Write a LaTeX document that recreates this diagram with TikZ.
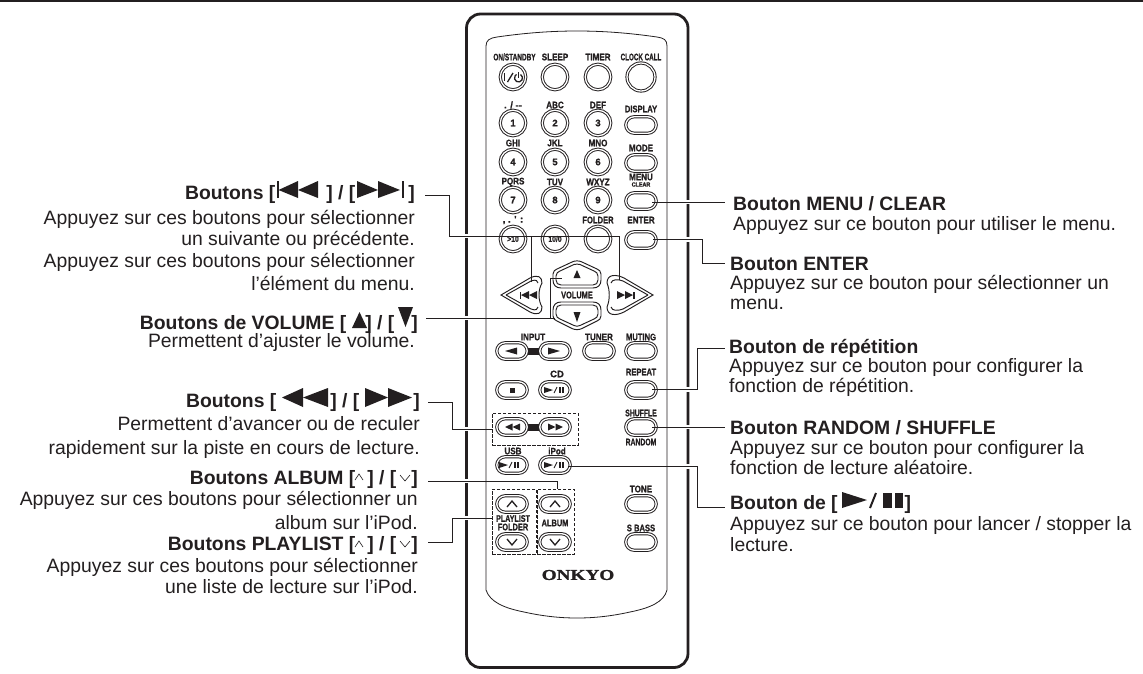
\documentclass[tikz,border=0pt]{standalone}
\usepackage{fontspec}
\setmainfont{Liberation Sans}
\newfontfamily\rcfont[FakeBold=1]{Liberation Sans}
\newfontfamily\logofont[FakeBold=1.2]{Liberation Serif}
\definecolor{ink}{HTML}{231F20}
\pgfdeclarelayer{bg}\pgfdeclarelayer{halo}\pgfsetlayers{bg,halo,main}
\newcommand{\rcLead}[1]{\begin{pgfonlayer}{halo}\draw[halolead] #1;\end{pgfonlayer}\draw[leader] #1;}
\newcommand{\rct}[2]{\scalebox{#1}[1]{#2}}
\tikzset{
 leader/.style={draw=ink,line width=0.9pt},
 halolead/.style={draw=white,line width=4.5pt},
 ring/.style={circle,draw=ink,double=white,double distance=1.3pt,line width=.95pt,minimum size=25.5pt,inner sep=0pt,text=ink,font=\rcfont\bfseries\fontsize{9.5}{10}\selectfont},
 bigring/.style={ring,minimum size=28pt},
 pill/.style={rectangle,rounded corners=8.5pt,draw=ink,double=white,double distance=1.3pt,line width=.95pt,minimum width=30.5pt,minimum height=16.5pt,inner sep=0pt,text=ink,font=\rcfont\bfseries\fontsize{8}{9}\selectfont},
 rc/.style={inner sep=0pt,text=ink,font=\rcfont\bfseries\fontsize{9.5}{10}\selectfont},
 lh/.style={inner sep=0pt,text=ink,anchor=base east,font=\bfseries\fontsize{19.35}{20}\selectfont},
 lt/.style={inner sep=0pt,text=ink,anchor=base east,font=\fontsize{19.35}{20}\selectfont},
 rh/.style={inner sep=0pt,text=ink,anchor=base west,font=\bfseries\fontsize{19.35}{20}\selectfont},
 rt/.style={inner sep=0pt,text=ink,anchor=base west,font=\fontsize{19.35}{20}\selectfont},
 dashbox/.style={draw=ink,line width=.85pt,dash pattern=on 3.5pt off 1.5pt,inner sep=0pt},
 icon/.style={fill=ink,draw=none},
 chev/.style={draw=ink,line width=1.3pt,fill=none},
 thinchev/.style={draw=ink,line width=.6pt,fill=none}
}
\begin{document}
\begin{tikzpicture}[x=1pt,y=-1pt]
\useasboundingbox (0,0) rectangle (1143,673);
\begin{pgfonlayer}{bg}
\fill[white] (0,0) rectangle (1143,673);
\fill[ink] (0,0) rectangle (1143,2.2);
\draw[ink,line width=2.8pt,rounded corners=14pt] (466.5,14) rectangle (688,667.5);
\end{pgfonlayer}
% panel
\draw[ink,line width=.8pt] (486,590) -- (486,46) .. controls (486,40) and (490,38) .. (497,37)
 .. controls (525,33) and (550,31) .. (577,31) .. controls (604,31) and (629,33) .. (657,37)
 .. controls (664,38) and (667,40) .. (667,46) -- (667,590)
 .. controls (664,602) and (650,608) .. (630,612) .. controls (612,616) and (595,618) .. (577,618)
 .. controls (559,618) and (542,616) .. (524,612) .. controls (504,608) and (490,602) .. (486,590);
% row 1
\node[ring] (bPower) at (513,77) {};
\node[ring] (bSleep) at (555,77) {};
\node[ring] (bTimer) at (598,77) {};
\node[bigring] (bClock) at (641,77) {};
\draw[ink,line width=1pt] (504.5,73) -- (504.5,81);
\draw[ink,line width=1.3pt] (507.5,82) -- (513,73);
\draw[ink,line width=1.3pt] (520.5,74.5) arc[start angle=300,end angle=600,radius=4];
\draw[ink,line width=1.2pt] (518.5,72) -- (518.5,77.5);
\node[rc] (tOn) at (514.5,57) {\rct{.68}{ON/STANDBY}};
\node[rc] (tSl) at (555,57) {\rct{.85}{SLEEP}};
\node[rc] (tTi) at (598,57) {\rct{.85}{TIMER}};
\node[rc] (tCl) at (641,57) {\rct{.66}{CLOCK CALL}};
% numbers
\node[ring] (b1) at (513,123) {1};
\node[ring] (b2) at (555,123) {2};
\node[ring] (b3) at (598,123) {3};
\node[ring] (b4) at (513,162) {4};
\node[ring] (b5) at (555,162) {5};
\node[ring] (b6) at (598,162) {6};
\node[ring] (b7) at (513,200) {7};
\node[ring] (b8) at (555,200) {8};
\node[ring] (b9) at (598,200) {9};
\node[ring] (bTen) at (513,239) {\fontsize{8}{9}\selectfont\rct{.85}{>10}};
\node[ring] (bZero) at (555,239) {\fontsize{8}{9}\selectfont\rct{.85}{10/0}};
\node[ring] (bFolder) at (598,239) {};
\node[rc] (t1) at (513,105) {. / --};
\node[rc] (t2) at (555,105) {\rct{.85}{ABC}};
\node[rc] (t3) at (598,105) {\rct{.85}{DEF}};
\node[rc] (t4) at (513,143) {\rct{.85}{GHI}};
\node[rc] (t5) at (555,143) {\rct{.85}{JKL}};
\node[rc] (t6) at (598,143) {\rct{.85}{MNO}};
\node[rc] (t7) at (513,182) {\rct{.85}{PQRS}};
\node[rc] (t8) at (555,182) {\rct{.85}{TUV}};
\node[rc] (t9) at (598,182) {\rct{.85}{WXYZ}};
\node[rc] (t10) at (513,220) {, . ' :};
\node[rc] (tFo) at (598,220) {\rct{.8}{FOLDER}};
% right column
\node[pill] (bDisplay) at (641,125) {};
\node[pill] (bMode) at (641,163) {};
\node[pill] (bMenu) at (641,201) {};
\node[pill] (bEnter) at (641,240) {};
\node[rc] (tDi) at (641,109) {\rct{.8}{DISPLAY}};
\node[rc] (tMo) at (641,148) {\rct{.85}{MODE}};
\node[rc] (tMe) at (641,177) {\rct{.85}{MENU}};
\node[rc] (tCle) at (641,184.5) {\fontsize{6}{7}\selectfont\rct{.9}{CLEAR}};
\node[rc] (tEn) at (641,220) {\rct{.85}{ENTER}};
% cursor
\draw[ink,line width=.95pt,fill=white] (501,295) -- (530,278) .. controls (538,274) and (542,277) .. (542,283) .. controls (538,290) and (538,300) .. (542,307) .. controls (542,313) and (538,316) .. (530,312) -- cycle;
\draw[ink,line width=.95pt] (506,295) -- (531,281) .. controls (536,279) and (538,281) .. (538,283);
\draw[ink,line width=.95pt] (506,295) -- (531,309) .. controls (536,311) and (538,309) .. (538,307);
\coordinate (bSkipL) at (531,282);
\draw[ink,line width=.95pt,fill=white] (653,295) -- (624,278) .. controls (616,274) and (607,274) .. (607,283) .. controls (610,290) and (610,300) .. (607,307) .. controls (607,316) and (616,316) .. (624,312) -- cycle;
\draw[ink,line width=.95pt] (648,295) -- (623,281) .. controls (618,279) and (612,279) .. (611,283);
\draw[ink,line width=.95pt] (648,295) -- (623,309) .. controls (618,311) and (612,311) .. (611,307);
\coordinate (bSkipR) at (619,280);
\draw[ink,line width=.95pt] (553,274) .. controls (553,271) and (555,270) .. (557,269) -- (572,262) .. controls (575,260.5) and (579,260.5) .. (582,262) -- (597,269) .. controls (599,270) and (601,271) .. (601,274) -- (601,280) .. controls (601,285) and (598,288) .. (593,288);
\draw[ink,line width=.95pt] (553,274) -- (553,280) .. controls (553,285) and (556,288) .. (561,288) -- (593,288);
\draw[ink,line width=.95pt] (556,276) .. controls (556,273) and (558,272) .. (560,271) -- (574,264.5) .. controls (576,264) and (578,264) .. (580,264.5) -- (594,271) .. controls (596,272) and (598,273) .. (598,276) -- (598,280) .. controls (598,283) and (596,285) .. (593,285) -- (561,285) .. controls (558,285) and (556,283) .. (556,280) -- cycle;
\draw[ink,line width=.95pt] (553,316) -- (553,310) .. controls (553,305) and (556,302) .. (561,302) -- (593,302) .. controls (598,302) and (601,305) .. (601,310) -- (601,316) .. controls (601,319) and (599,320) .. (597,321) -- (582,328.5) .. controls (579,330) and (575,330) .. (572,328.5) -- (557,321) .. controls (555,320) and (553,319) .. (553,316);
\draw[ink,line width=.95pt] (556,314) -- (556,310) .. controls (556,307) and (558,305) .. (561,305) -- (593,305) .. controls (596,305) and (598,307) .. (598,310) -- (598,314) .. controls (598,317) and (596,318) .. (594,319) -- (580,325.5) .. controls (578,326.5) and (576,326.5) .. (574,325.5) -- (560,319) .. controls (558,318) and (556,317) .. (556,314);
\coordinate (bVolU) at (562,278);
\coordinate (bVolD) at (555,318);
\fill[ink] (577,270) -- (580.5,278) -- (573.5,278) -- cycle;
\fill[ink] (577,322) -- (580.5,312) -- (573.5,312) -- cycle;
\node[rc] (tVol) at (577,295) {\rct{.78}{VOLUME}};
\fill[ink] (519.5,291.5) rectangle (521,298.5);
\fill[ink] (521,295) -- (529,291) -- (529,299) -- cycle;
\fill[ink] (529,295) -- (537,291) -- (537,299) -- cycle;
\fill[ink] (617,291) -- (625,295) -- (617,299) -- cycle;
\fill[ink] (625,291) -- (633,295) -- (625,299) -- cycle;
\fill[ink] (633,291.5) rectangle (634.5,298.5);
% input row
\fill[ink] (528,347.5) rectangle (539,354.5);
\node[pill] (bInL) at (512,351) {};
\node[pill] (bInR) at (555,351) {};
\node[pill] (bTuner) at (599,351) {};
\node[pill] (bMuting) at (641,351) {};
\fill[ink] (505,351) -- (517,347.5) -- (517,354.5) -- cycle;
\fill[ink] (560,351) -- (548,347.5) -- (548,354.5) -- cycle;
\node[rc] (tIn) at (533,337) {\rct{.85}{INPUT}};
\node[rc] (tTu) at (599,337) {\rct{.85}{TUNER}};
\node[rc] (tMu) at (641,337) {\rct{.8}{MUTING}};
% cd row
\node[pill] (bStop) at (512,390) {};
\node[pill] (bCD) at (555,390) {};
\node[pill] (bRepeat) at (641,390) {};
\fill[ink] (510,387.5) rectangle (515,392.5);
\fill[ink] (544,387) -- (553,390) -- (544,393) -- cycle;
\draw[ink,line width=.9pt] (554,393) -- (557,387);
\fill[ink] (558.5,387) rectangle (560.5,393);\fill[ink] (562,387) rectangle (564,393);
\node[rc] (tCD) at (557,374) {CD};
\node[rc] (tRe) at (641,372) {\rct{.8}{REPEAT}};
% ff row
\fill[ink] (528,423.5) rectangle (539,430.5);
\node[pill] (bRew) at (512,427) {};
\node[pill] (bFf) at (555,427) {};
\node[pill] (bShuffle) at (641,427) {};
\fill[ink] (505,427) -- (512.5,423.5) -- (512.5,430.5) -- cycle;
\fill[ink] (512.5,427) -- (520,423.5) -- (520,430.5) -- cycle;
\fill[ink] (548,423.5) -- (555.5,427) -- (548,430.5) -- cycle;
\fill[ink] (555.5,423.5) -- (563,427) -- (555.5,430.5) -- cycle;
\node[dashbox,minimum width=86pt,minimum height=32pt] (boxFf) at (535,429) {};
\node[rc] (tSh) at (641,413) {\rct{.72}{SHUFFLE}};
\node[rc] (tRa) at (641,442) {\rct{.72}{RANDOM}};
% usb row
\node[pill] (bUsb) at (512,465) {};
\node[pill] (bIpod) at (555,465) {};
\fill[ink] (499,462) -- (508,465) -- (499,468) -- cycle;
\draw[ink,line width=.9pt] (509,468) -- (512,462);
\fill[ink] (513.5,462) rectangle (515.5,468);\fill[ink] (517,462) rectangle (519,468);
\fill[ink] (544,462) -- (553,465) -- (544,468) -- cycle;
\draw[ink,line width=.9pt] (554,468) -- (557,462);
\fill[ink] (558.5,462) rectangle (560.5,468);\fill[ink] (562,462) rectangle (564,468);
\node[rc] (tUs) at (513,451) {\rct{.85}{USB}};
\node[rc] (tIp) at (557,451) {\rct{.85}{iPod}};
% bottom
\node[pill] (bPlU) at (512,504) {};
\node[pill] (bPlD) at (512,542) {};
\node[pill] (bAlU) at (555,504) {};
\node[pill] (bAlD) at (555,542) {};
\node[pill] (bTone) at (641,504) {};
\node[pill] (bBass) at (641,542) {};
\draw[chev] (507,507) -- (512,501) -- (517,507);
\draw[chev] (550,507) -- (555,501) -- (560,507);
\draw[chev] (507,539) -- (512,545) -- (517,539);
\draw[chev] (550,539) -- (555,545) -- (560,539);
\node[dashbox,minimum width=44pt,minimum height=65pt] (boxPl) at (514,521.5) {};
\node[dashbox,minimum width=37pt,minimum height=65pt] (boxAl) at (555.5,521.5) {};
\node[rc] (tPl) at (513,518.5) {\rct{.75}{PLAYLIST}};
\node[rc] (tFl) at (513,527) {\rct{.78}{FOLDER}};
\node[rc] (tAl) at (555,523) {\rct{.78}{ALBUM}};
\node[rc] (tTo) at (641,489) {\rct{.85}{TONE}};
\node[rc] (tBa) at (641,528) {\rct{.8}{S BASS}};
\node[inner sep=0pt,text=ink,font=\logofont\bfseries\fontsize{15}{16}\selectfont] (logo) at (578,575) {\scalebox{1.28}[1]{ONKYO}};
% left labels
\node[lh] (lSkip) at (415,199) {Boutons [\hspace{51pt}] / [\hspace{53pt}]};
\node[lt] (l1a) at (415,224) {Appuyez sur ces boutons pour sélectionner};
\node[lt] (l1b) at (415,245) {un suivante ou précédente.};
\node[lt] (l1c) at (415,267) {Appuyez sur ces boutons pour sélectionner};
\node[lt] (l1d) at (415,290) {l’élément du menu.};
\node[lh] (lVol) at (418,329) {Boutons de VOLUME [\hspace{19pt}] / [\hspace{17pt}]};
\node[lt] (l2a) at (415,347) {Permettent d’ajuster le volume.};
\node[lh] (lFf) at (420,407) {Boutons [\hspace{54pt}] / [\hspace{54pt}]};
\node[lt] (l3a) at (420,430) {Permettent d’avancer ou de reculer};
\node[lt] (l3b) at (420,454) {rapidement sur la piste en cours de lecture.};
\node[lh] (lAl) at (418,484) {Boutons ALBUM [\hspace{12pt}] / [\hspace{15pt}]};
\node[lt] (l4a) at (418,505) {Appuyez sur ces boutons pour sélectionner un};
\node[lt] (l4b) at (418,529) {album sur l’iPod.};
\node[lh] (lPl) at (418,550) {Boutons PLAYLIST [\hspace{12pt}] / [\hspace{15pt}]};
\node[lt] (l5a) at (418,572) {Appuyez sur ces boutons pour sélectionner};
\node[lt] (l5b) at (418,593) {une liste de lecture sur l’iPod.};
% right labels
\node[rh] (rMenu) at (733,210) {Bouton MENU / CLEAR};
\node[rt] (r1a) at (733,230) {Appuyez sur ce bouton pour utiliser le menu.};
\node[rh] (rEnter) at (730,270) {Bouton ENTER};
\node[rt] (r2a) at (730,289) {Appuyez sur ce bouton pour sélectionner un};
\node[rt] (r2b) at (730,309) {menu.};
\node[rh] (rRep) at (729,353) {Bouton de répétition};
\node[rt] (r3a) at (729,372) {Appuyez sur ce bouton pour configurer la};
\node[rt] (r3b) at (729,392) {fonction de répétition.};
\node[rh] (rRan) at (730,434) {Bouton RANDOM / SHUFFLE};
\node[rt] (r4a) at (730,454) {Appuyez sur ce bouton pour configurer la};
\node[rt] (r4b) at (730,474) {fonction de lecture aléatoire.};
\node[rh] (rPlay) at (730,509) {Bouton de [\hspace{67pt}]};
\node[rt] (r5a) at (730,530) {Appuyez sur ce bouton pour lancer / stopper la};
\node[rt] (r5b) at (730,551) {lecture.};
% inline icons
\fill[ink] (277,181) rectangle (278.5,198);
\fill[ink] (278.5,190) -- (298,181) -- (298,198) -- cycle;
\fill[ink] (298,190) -- (318,181) -- (318,198) -- cycle;
\fill[ink] (357,181) -- (378,190) -- (357,198) -- cycle;
\fill[ink] (378,181) -- (400,190) -- (378,198) -- cycle;
\fill[ink] (402,181) rectangle (403.5,198);
\fill[ink] (359.5,312) -- (367,328) -- (352,328) -- cycle;
\fill[ink] (405.5,327) -- (413,307) -- (398,307) -- cycle;
\fill[ink] (282,397.5) -- (303,388) -- (303,407) -- cycle;
\fill[ink] (303,397.5) -- (328,388) -- (328,407) -- cycle;
\fill[ink] (365,388) -- (388,397.5) -- (365,407) -- cycle;
\fill[ink] (388,388) -- (412,397.5) -- (388,407) -- cycle;
\draw[thinchev] (355,480) -- (359,474) -- (363,480);
\draw[thinchev] (400,475) -- (405,481) -- (410,475);
\draw[thinchev] (355,547) -- (359,541) -- (363,547);
\draw[thinchev] (400,541) -- (405,547) -- (410,541);
\fill[ink] (842,492) -- (867,500) -- (842,508) -- cycle;
\draw[ink,line width=2pt] (870,508) -- (876,493);
\fill[ink] (883,493) rectangle (892,508);
\fill[ink] (895,493) rectangle (903,508);
% free ends of connectors
\coordinate (cSkip) at (425,195);
\coordinate (cVol) at (426,318);
\coordinate (cFf) at (428,402);
\coordinate (cAl) at (428,481);
\coordinate (cPl) at (428,542);
\coordinate (cMenu) at (725,202);
\coordinate (cEnter) at (725,263);
\coordinate (cRep) at (725,348);
\coordinate (cRan) at (725,427);
\coordinate (cPlay) at (725,507);
% connectors
\rcLead{(cSkip) -- (449,195) -- (449,236) -- (619,236) -- (bSkipR)}
\rcLead{(531,236) -- (bSkipL)}
\rcLead{(cVol) -- (bVolD)}
\rcLead{(550,318) -- (550,278) -- (bVolU)}
\rcLead{(cFf) -- (452,402) |- (boxFf.west)}
\rcLead{(cAl) -| ([xshift=1.5pt]boxAl.north)}
\rcLead{(cPl) -- (452,542) |- ([yshift=3.5pt]boxPl.west)}
\rcLead{([xshift=11pt,yshift=-1pt]bMenu.center) -- (cMenu)}
\rcLead{([xshift=12pt,yshift=.5pt]bEnter.center) -- (702,239.5) -- (702,263) -- (cEnter)}
\rcLead{([xshift=11pt,yshift=.5pt]bRepeat.center) -- (697,389.5) -- (697,348) -- (cRep)}
\rcLead{([xshift=11pt]bShuffle.center) -- (cRan)}
\rcLead{([xshift=13pt,yshift=-1.5pt]bIpod.center) -- (697,466.5) -- (697,507) -- (cPlay)}
\end{tikzpicture}
\end{document}
